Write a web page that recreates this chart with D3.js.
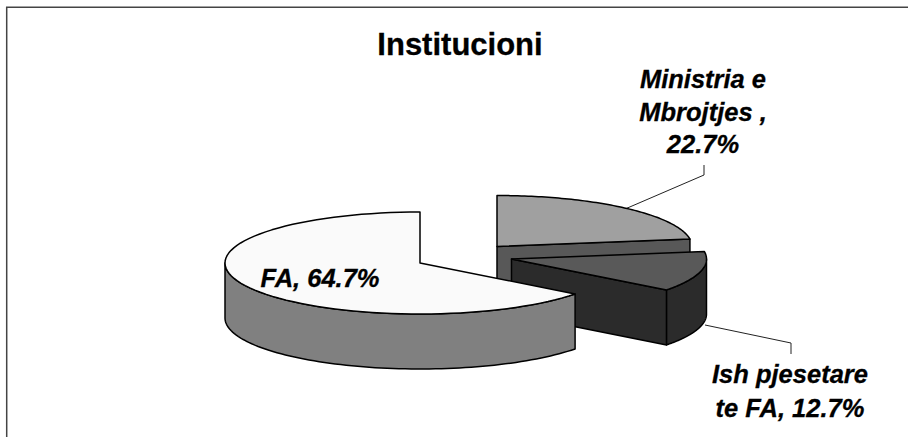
<!DOCTYPE html>
<html>
<head>
<meta charset="utf-8">
<script src="https://d3js.org/d3.v7.min.js"></script>
<style>
  html, body { margin: 0; padding: 0; background: #fff; }
  svg { display: block; }
  text { font-family: "Liberation Sans", Arial, sans-serif; font-weight: bold; fill: #000; stroke: #000; stroke-width: 0.3px; }
  .label { font-style: italic; font-size: 25.5px; }
  .title { font-size: 31px; }
</style>
</head>
<body>
<svg width="908" height="437"></svg>
<script>
// Data
const categories = ["Ministria e Mbrojtjes", "Ish pjesetare te FA", "FA"];
const shares = [22.7, 12.7, 64.7];
const titleText = "Institucioni";
const labelLines = [
  ["Ministria e", "Mbrojtjes ,", "22.7%"],
  ["Ish pjesetare", "te FA, 12.7%"],
  ["FA, 64.7%"]
];

var svg = d3.select("svg"),
    width = +svg.attr("width"),
    height = +svg.attr("height");

// pie tilt and wall height
const rx = 195, ry = 51, depth = 55;

// each slice is pulled out from the middle, so it has its own apex
const apex = [[497, 246.5], [511.5, 259], [420, 263]];
const topFill = ["#a0a0a0", "#595959", "#fafafa"];
const wallFill = ["#585858", "#2b2b2b", "#808080"];

// where the label lines go and their leader lines
const labelPos = [[703, 88], [790, 383], [320, 287]];
const lineHeight = [32.5, 34, 0];
const leaders = [
  [[626.7, 208.3], [704, 175], [704, 165]],
  [[705, 325], [791, 343], [791, 354]]
];

var pie = d3.pie().sort(null).value(function(d) { return d; });
var arcs = pie(shares);

var line = d3.line();

// point on the tilted circle, angle measured clockwise from 12 o'clock
function rim(c, a, dy) {
  return [c[0] + rx * Math.sin(a), c[1] - ry * Math.cos(a) + (dy || 0)];
}

function rimPoints(c, a0, a1, dy) {
  return d3.range(0, 81).map(function(i) {
    return rim(c, a0 + (a1 - a0) * i / 80, dy);
  });
}

// frame runs along the top and left only
svg.append("path")
    .attr("d", line([[6.7, height], [6.7, 7.3], [width, 7.3]]))
    .attr("fill", "none")
    .attr("stroke", "#444")
    .attr("stroke-width", 1.5);

svg.append("g")
    .attr("class", "leaders")
  .selectAll("path")
  .data(leaders)
  .enter().append("path")
    .attr("d", function(d) { return line(d); })
    .attr("fill", "none")
    .attr("stroke", "#222")
    .attr("stroke-width", 1);

var slices = svg.append("g")
    .attr("class", "slices")
    .attr("stroke", "#000")
    .attr("stroke-width", 1.5)
    .attr("stroke-linejoin", "round")
  .selectAll("g")
  .data(arcs)
  .enter().append("g")
    .attr("class", "slice");

slices.each(function(d, i) {
  var g = d3.select(this), c = apex[i];

  // cut face at the end of the slice, seen only when it turns toward the front
  if (Math.sin(d.endAngle) > 0.001) {
    var e = rim(c, d.endAngle);
    g.append("path")
        .attr("d", line([c, e, [e[0], e[1] + depth], [c[0], c[1] + depth]]) + "Z")
        .attr("fill", wallFill[i]);
  }

  // outer wall, front half of the rim only
  var a0 = Math.max(d.startAngle, Math.PI / 2),
      a1 = Math.min(d.endAngle, Math.PI * 1.5);
  if (a1 > a0) {
    var wall = rimPoints(c, a0, a1).concat(rimPoints(c, a1, a0, depth));
    g.append("path")
        .attr("d", line(wall) + "Z")
        .attr("fill", wallFill[i]);
  }

  // top of the slice
  var top = [c].concat(rimPoints(c, d.startAngle, d.endAngle));
  g.append("path")
      .attr("d", line(top) + "Z")
      .attr("fill", topFill[i]);
});

svg.append("text")
    .attr("class", "title")
    .attr("x", 460)
    .attr("y", 55)
    .attr("text-anchor", "middle")
    .text(titleText);

var labels = svg.append("g")
    .attr("class", "labels")
  .selectAll("text")
  .data(categories)
  .enter().append("text")
    .attr("class", "label")
    .attr("text-anchor", "middle")
    .attr("x", function(d, i) { return labelPos[i][0]; })
    .attr("y", function(d, i) { return labelPos[i][1]; });

labels.selectAll("tspan")
  .data(function(d, i) {
    return labelLines[i].map(function(t) { return { text: t, k: i }; });
  })
  .enter().append("tspan")
    .attr("x", function(d) { return labelPos[d.k][0]; })
    .attr("dy", function(d, j) { return j ? lineHeight[d.k] : 0; })
    .text(function(d) { return d.text; });
</script>
</body>
</html>
